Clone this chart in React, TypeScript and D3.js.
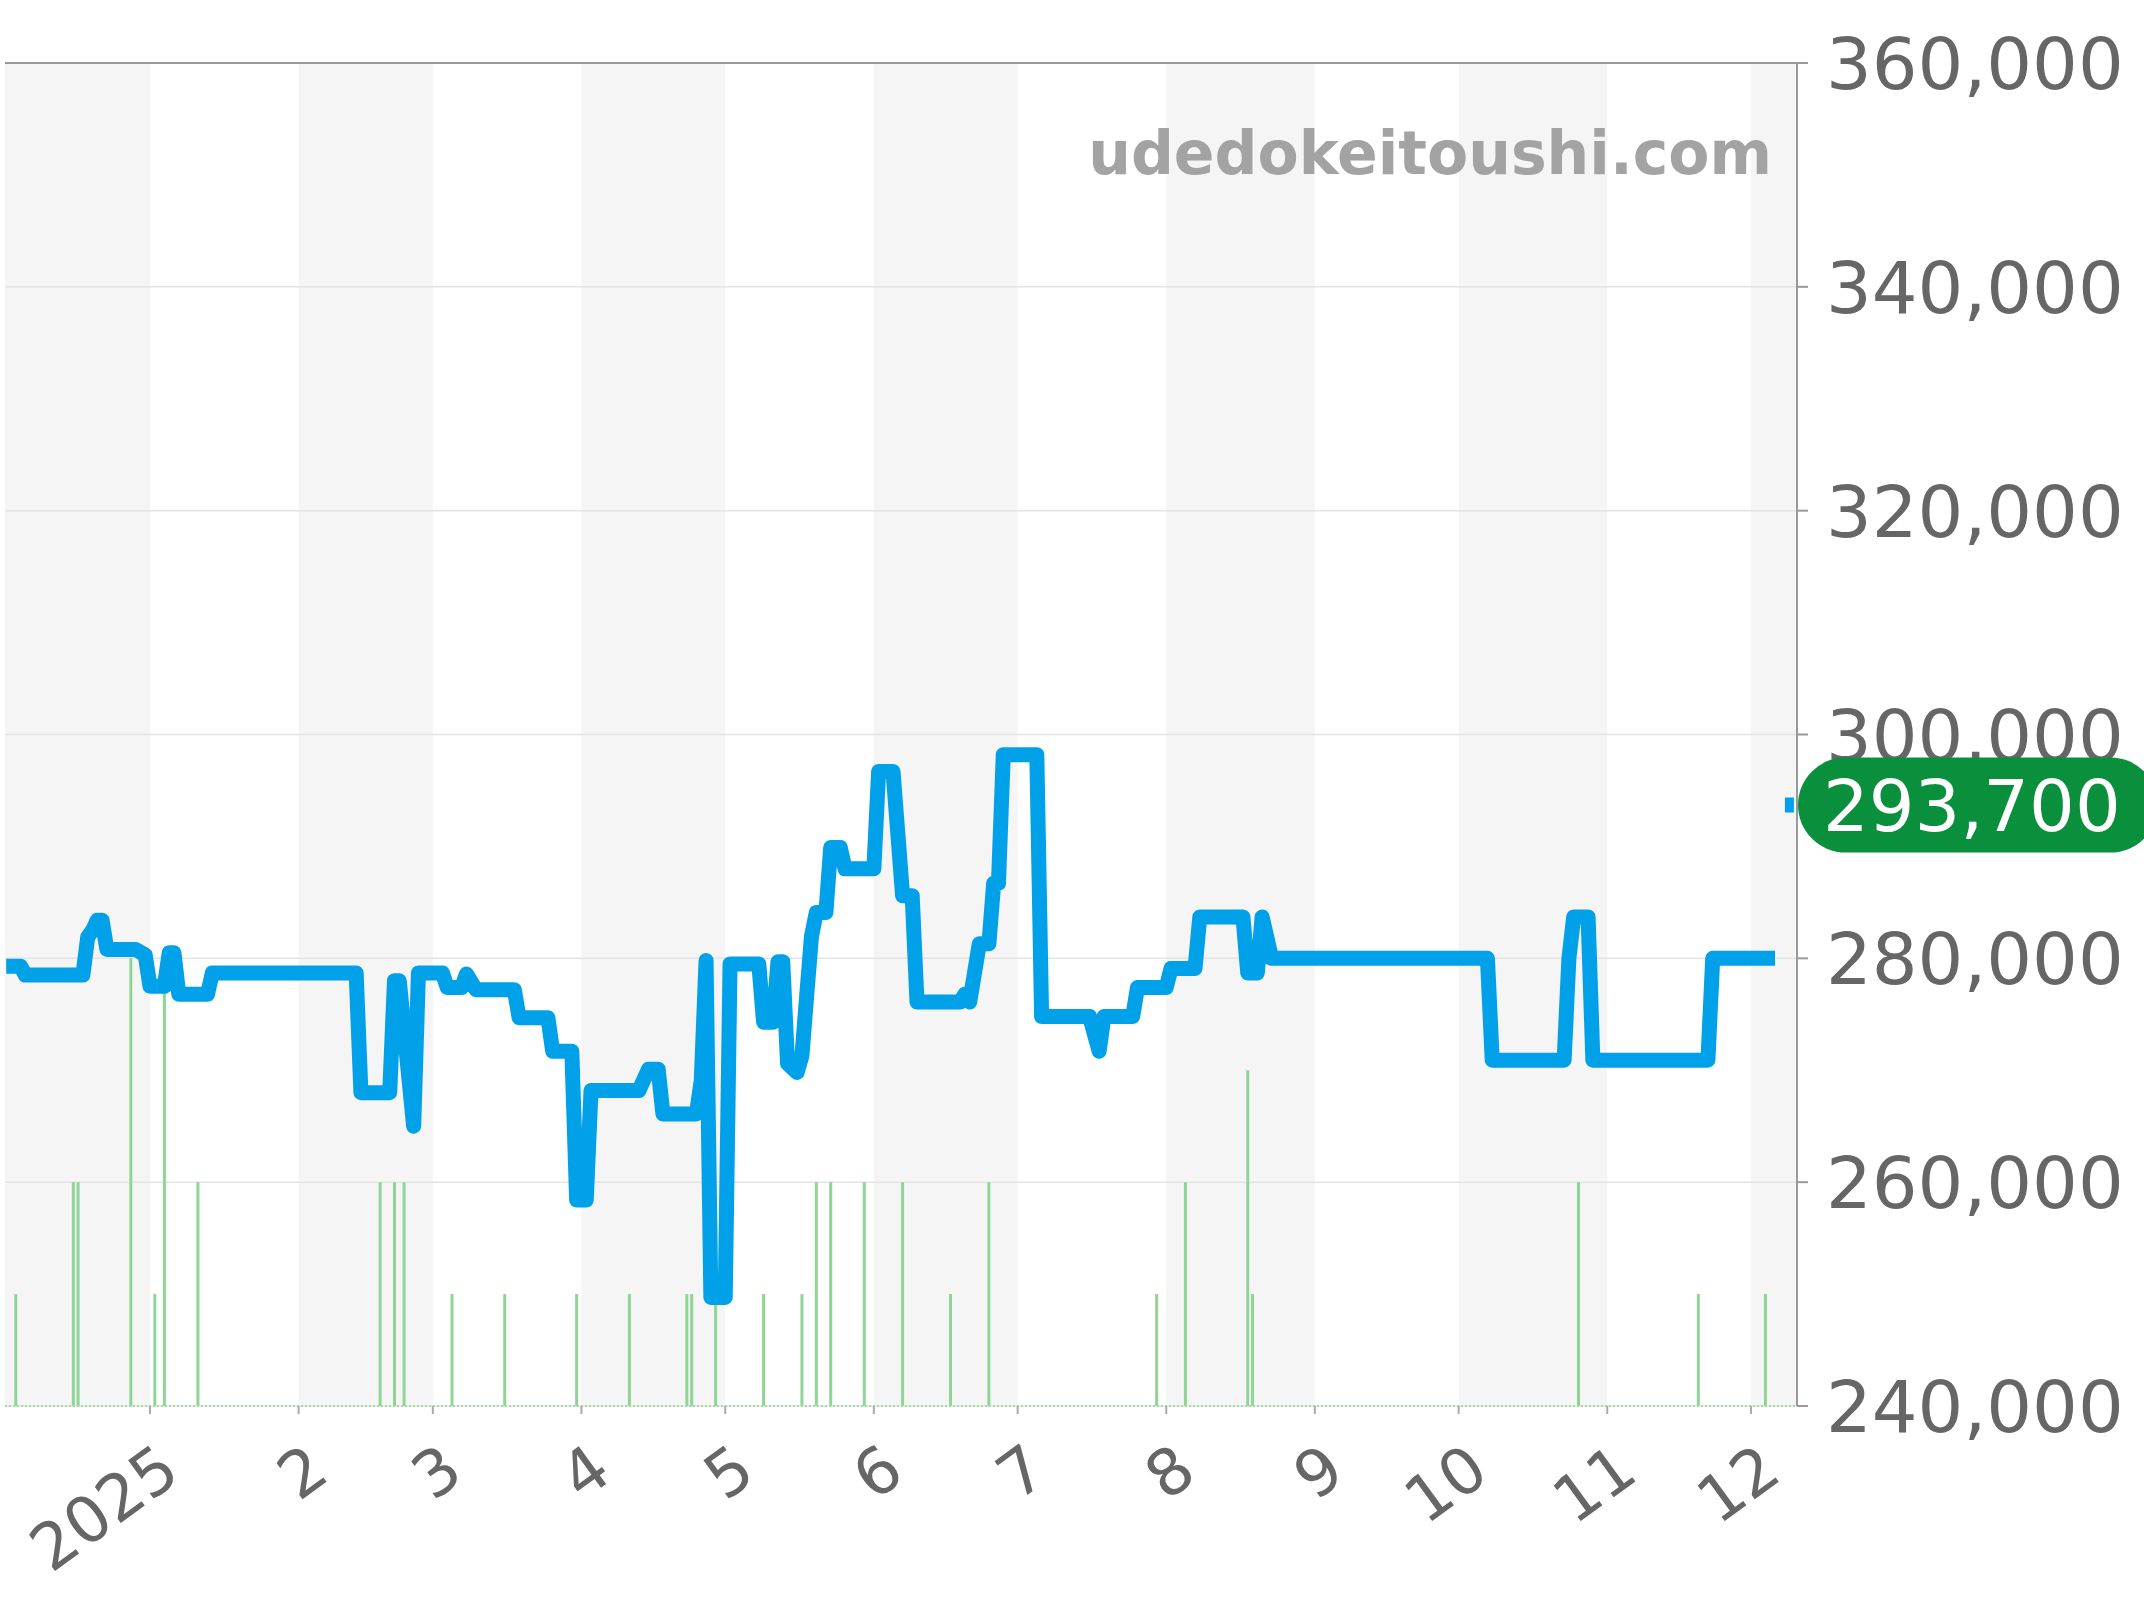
import React from 'react';
import * as d3 from 'd3';

const W = 2144;
const H = 1600;

// price line (daily closes)
const priceDates = [
  '2024-12-02', '2024-12-05', '2024-12-06', '2024-12-18', '2024-12-19', '2024-12-20', '2024-12-21', '2024-12-22',
  '2024-12-23', '2024-12-29', '2024-12-31', '2025-01-01', '2025-01-04', '2025-01-05', '2025-01-06', '2025-01-07',
  '2025-01-13', '2025-01-14', '2025-02-13', '2025-02-14', '2025-02-20', '2025-02-21', '2025-02-22', '2025-02-25',
  '2025-02-26', '2025-03-03', '2025-03-04', '2025-03-07', '2025-03-08', '2025-03-10', '2025-03-18', '2025-03-19',
  '2025-03-25', '2025-03-26', '2025-03-30', '2025-03-31', '2025-04-02', '2025-04-03', '2025-04-13', '2025-04-15',
  '2025-04-17', '2025-04-18', '2025-04-25', '2025-04-26', '2025-04-27', '2025-04-28', '2025-05-01', '2025-05-02',
  '2025-05-08', '2025-05-09', '2025-05-11', '2025-05-12', '2025-05-13', '2025-05-14', '2025-05-16', '2025-05-17',
  '2025-05-18', '2025-05-19', '2025-05-20', '2025-05-22', '2025-05-23', '2025-05-25', '2025-05-26', '2025-06-01',
  '2025-06-02', '2025-06-05', '2025-06-07', '2025-06-09', '2025-06-10', '2025-06-19', '2025-06-20', '2025-06-21',
  '2025-06-23', '2025-06-25', '2025-06-26', '2025-06-27', '2025-06-28', '2025-07-05', '2025-07-06', '2025-07-16',
  '2025-07-18', '2025-07-19', '2025-07-25', '2025-07-26', '2025-08-01', '2025-08-02', '2025-08-07', '2025-08-08',
  '2025-08-17', '2025-08-18', '2025-08-20', '2025-08-21', '2025-08-23', '2025-10-07', '2025-10-08', '2025-10-23',
  '2025-10-24', '2025-10-25', '2025-10-28', '2025-10-29', '2025-11-22', '2025-11-23', '2025-12-06',
];
const priceValues = [
  279300, 279300, 278500, 278500, 281900, 282500, 283400, 283400,
  280800, 280800, 280300, 277500, 277500, 280500, 280500, 276800,
  276800, 278700, 278700, 268000, 268000, 278000, 278000, 265000,
  278700, 278700, 277400, 277400, 278600, 277200, 277200, 274700,
  274700, 271700, 271700, 258400, 258400, 268200, 268200, 270100,
  270100, 266100, 266100, 269100, 279800, 249700, 249700, 279500,
  279500, 274300, 274300, 279700, 279700, 270600, 269800, 271300,
  276700, 282000, 284100, 284100, 289900, 289900, 288000, 288000,
  296700, 296700, 285600, 285600, 276100, 276100, 276800, 276100,
  281300, 281300, 286700, 286700, 298200, 298200, 274800, 274800,
  271700, 274800, 274800, 277400, 277400, 279100, 279100, 283700,
  283700, 278700, 278700, 283700, 280000, 280000, 270900, 270900,
  280000, 283700, 283700, 270900, 270900, 280000, 280000,
];

// number of listings per day (green bars)
const volumeDates = [
  '2024-12-04', '2024-12-16', '2024-12-17', '2024-12-28', '2025-01-02', '2025-01-04', '2025-01-11', '2025-02-18',
  '2025-02-21', '2025-02-23', '2025-03-05', '2025-03-16', '2025-03-31', '2025-04-11', '2025-04-23', '2025-04-24',
  '2025-04-29', '2025-05-09', '2025-05-17', '2025-05-20', '2025-05-23', '2025-05-30', '2025-06-07', '2025-06-17',
  '2025-06-25', '2025-07-30', '2025-08-05', '2025-08-18', '2025-08-19', '2025-10-26', '2025-11-20', '2025-12-04',
];
const volumeCounts = [
  1, 2, 2, 4, 1, 4, 2, 2,
  2, 2, 1, 1, 1, 1, 1, 1,
  1, 1, 1, 2, 2, 2, 2, 1,
  2, 1, 2, 3, 1, 2, 1, 1,
];

const lastDate = '2025-12-09';
const lastPrice = 293700;

const yTicks = [240000, 260000, 280000, 300000, 320000, 340000, 360000];
const monthTickDates = [
  '2025-01-01', '2025-02-01', '2025-03-01', '2025-04-01', '2025-05-01', '2025-06-01',
  '2025-07-01', '2025-08-01', '2025-09-01', '2025-10-01', '2025-11-01', '2025-12-01',
];
const monthLabels = ['2025', '2', '3', '4', '5', '6', '7', '8', '9', '10', '11', '12'];
const watermark = 'udedokeitoushi.com';

const FONT = '"DejaVu Sans", sans-serif';

export default function App() {
  const parse = d3.timeParse('%Y-%m-%d');
  const left = 5;
  const right = 1797;
  const top = 63;
  const bottom = 1406;

  const x = d3
    .scaleTime()
    .domain([new Date(2024, 11, 1, 18), new Date(2025, 11, 10, 14)])
    .range([left, right]);
  const y = d3.scaleLinear().domain([240000, 360000]).range([bottom, top]);
  const yVol = d3.scaleLinear().domain([0, 12]).range([bottom, top]);

  const linePts = priceDates.map((d, i) => [parse(d) as Date, priceValues[i]] as [Date, number]);
  const line = d3
    .line<[Date, number]>()
    .x((d) => x(d[0]))
    .y((d) => y(d[1]));

  const months = d3.timeMonth.range(new Date(2024, 11, 1), new Date(2026, 0, 1));
  const bands = months
    .filter((m) => m.getMonth() % 2 === 1)
    .map((m) => {
      const next = d3.timeMonth.offset(m, 1);
      const x0 = Math.max(left, x(m));
      const x1 = Math.min(right, x(next));
      return { x0, x1 };
    })
    .filter((b) => b.x1 > b.x0);

  const fmt = d3.format(',');
  const lastX = x(parse(lastDate) as Date);
  const lastY = y(lastPrice);

  return (
    <svg
      width={W}
      height={H}
      style={{ position: 'absolute', left: 0, top: 0, background: '#fff' }}
      fontFamily={FONT}
    >
      {/* alternating month bands */}
      {bands.map((b, i) => (
        <rect key={'b' + i} x={b.x0} y={top} width={b.x1 - b.x0} height={bottom - top} fill="#f5f5f5" />
      ))}
      {/* horizontal grid */}
      {yTicks.map((t) => (
        <line key={'g' + t} x1={left} x2={right} y1={y(t)} y2={y(t)} stroke="#e4e4e4" strokeWidth={1.5} />
      ))}
      {/* top border */}
      <line x1={left} x2={right} y1={top} y2={top} stroke="#999" strokeWidth={2} />

      {/* watermark */}
      <text x={1772} y={174} textAnchor="end" fontSize={60} fontWeight="bold" fill="#a3a3a3">
        {watermark}
      </text>

      {/* volume bars */}
      {volumeDates.map((d, i) => {
        const xx = x(parse(d) as Date);
        return (
          <line
            key={'v' + i}
            x1={xx}
            x2={xx}
            y1={bottom}
            y2={yVol(volumeCounts[i])}
            stroke="#8fd596"
            strokeWidth={3}
          />
        );
      })}
      {/* dotted baseline */}
      <line x1={left} x2={right} y1={bottom} y2={bottom} stroke="#a6dca9" strokeWidth={2} strokeDasharray="2,2" />

      {/* price line */}
      <path
        d={line(linePts) || ''}
        fill="none"
        stroke="#00a1e9"
        strokeWidth={15}
        strokeLinejoin="round"
        strokeLinecap="butt"
      />
      {/* latest point */}
      <rect x={lastX - 4.5} y={lastY - 7.5} width={9} height={15} fill="#00a1e9" />

      {/* right axis */}
      <line x1={right} x2={right} y1={top} y2={bottom} stroke="#999" strokeWidth={2} />
      {yTicks.map((t) => (
        <line key={'yt' + t} x1={right} x2={right + 11} y1={y(t)} y2={y(t)} stroke="#999" strokeWidth={2} />
      ))}
      {yTicks.map((t) => (
        <text key={'yl' + t} x={1826} y={y(t) + 26} fontSize={72} fill="#666">
          {fmt(t)}
        </text>
      ))}

      {/* x ticks */}
      {monthTickDates.map((d, i) => {
        const xx = x(parse(d) as Date);
        return (
          <g key={'xt' + i}>
            <line x1={xx} x2={xx} y1={bottom} y2={bottom + 8} stroke="#aaa" strokeWidth={2} />
            <text
              transform={`translate(${xx + 33},${bottom + 72}) rotate(-36)`}
              textAnchor="end"
              fontSize={64}
              fill="#666"
            >
              {monthLabels[i]}
            </text>
          </g>
        );
      })}

      {/* latest price label */}
      <rect x={1798} y={lastY - 47.5} width={360} height={95} rx={47.5} ry={47.5} fill="#0a8f3c" />
      <text x={1823} y={lastY + 26} fontSize={72} fill="#fff">
        {fmt(lastPrice)}
      </text>
    </svg>
  );
}
